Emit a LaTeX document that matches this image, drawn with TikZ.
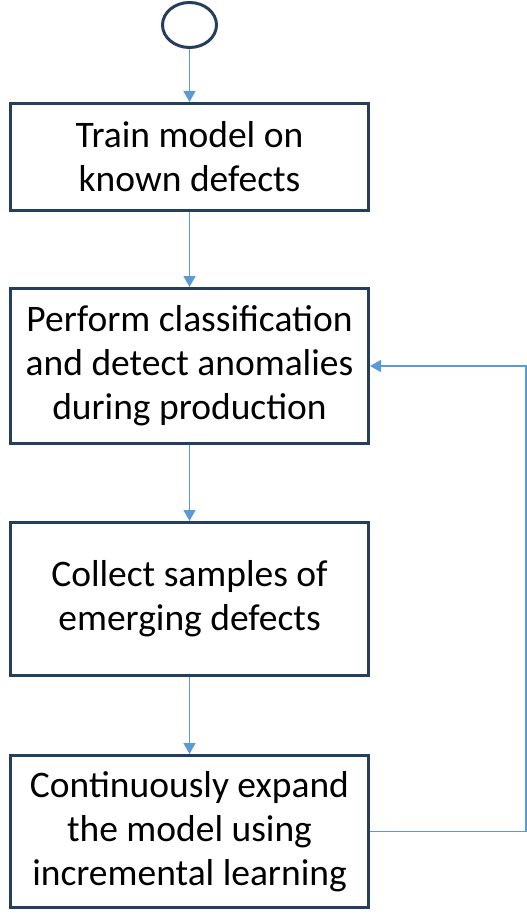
\documentclass[tikz,border=0pt]{standalone}
\usepackage{fontspec}
\setmainfont{Carlito}
\usetikzlibrary{arrows.meta,shapes.geometric}
\definecolor{boxline}{RGB}{36,62,92}
\definecolor{arrowblue}{RGB}{91,155,213}
\begin{document}
\begin{tikzpicture}[x=1pt,y=-1pt,
  stepbox/.style={draw=boxline, line width=3pt, minimum width=358pt, align=center, inner sep=0pt,
    font=\fontsize{37.5}{44}\selectfont},
  conn/.style={draw=arrowblue, line width=1.5pt, -{Triangle[width=12pt,length=11pt]}}]
\useasboundingbox (0,0) rectangle (527,923);
\node[draw=boxline, line width=3pt, ellipse, minimum width=54pt, minimum height=45pt, inner sep=0pt] (start) at (189.5,25) {};
\node[stepbox, minimum height=107pt] (b1) at (189.5,157) {Train model on\\known defects};
\node[stepbox, minimum height=155pt] (b2) at (189.5,366) {Perform classification\\and detect anomalies\\during production};
\node[stepbox, minimum height=153pt] (b3) at (189.5,599) {Collect samples of\\emerging defects};
\node[stepbox, minimum height=152pt] (b4) at (189.5,831.5) {Continuously expand\\the model using\\incremental learning};
\coordinate (c1) at (526,831.5);
\coordinate (c2) at (526,366);
\draw[conn] (start) -- (b1);
\draw[conn] (b1) -- (b2);
\draw[conn] (b2) -- (b3);
\draw[conn] (b3) -- (b4);
\draw[conn] (b4.east) -- (c1) -- (c2) -- (b2.east);
\end{tikzpicture}
\end{document}
